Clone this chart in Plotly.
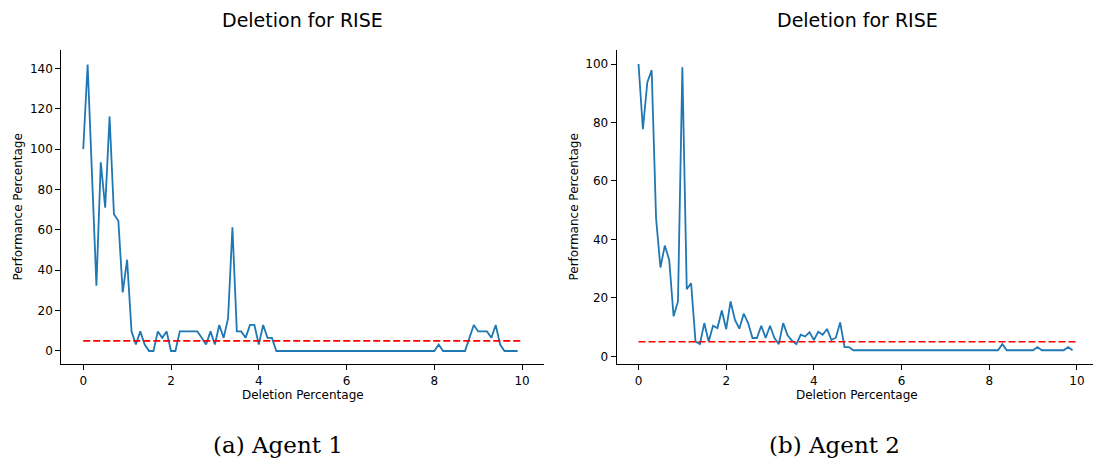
import plotly.graph_objects as go

# ---------------- data ----------------
deletion_pct = [round(i * 0.1, 1) for i in range(100)]  # 0.0 .. 9.9

agent1_perf = [
    100.0, 141.9, 87.1, 32.3, 93.5, 71.0, 116.1, 67.7, 64.5, 29.0,
    45.2, 9.7, 3.2, 9.7, 3.2, 0.0, 0.0, 9.7, 6.5, 9.7,
    0.0, 0.0, 9.7, 9.7, 9.7, 9.7, 9.7, 6.5, 3.2, 9.7,
    3.2, 12.9, 6.5, 16.1, 61.3, 9.7, 9.7, 6.5, 12.9, 12.9,
    3.2, 12.9, 6.5, 6.5, 0.0, 0.0, 0.0, 0.0, 0.0, 0.0,
    0.0, 0.0, 0.0, 0.0, 0.0, 0.0, 0.0, 0.0, 0.0, 0.0,
    0.0, 0.0, 0.0, 0.0, 0.0, 0.0, 0.0, 0.0, 0.0, 0.0,
    0.0, 0.0, 0.0, 0.0, 0.0, 0.0, 0.0, 0.0, 0.0, 0.0,
    0.0, 3.2, 0.0, 0.0, 0.0, 0.0, 0.0, 0.0, 6.5, 12.9,
    9.7, 9.7, 9.7, 6.5, 12.9, 3.2, 0.0, 0.0, 0.0, 0.0,
]

agent2_perf = [
    100.0, 77.7, 93.7, 97.9, 47.3, 30.4, 37.9, 33.0, 13.7, 18.8,
    98.9, 23.0, 25.0, 5.1, 4.2, 11.4, 5.1, 10.5, 9.7, 15.7,
    9.3, 18.8, 12.5, 9.5, 14.6, 11.4, 6.3, 6.3, 10.5, 6.3,
    10.5, 6.3, 4.2, 11.4, 7.2, 5.4, 4.2, 7.4, 6.8, 8.3,
    5.6, 8.4, 7.4, 9.4, 5.6, 6.4, 11.6, 3.2, 3.2, 2.1,
    2.1, 2.1, 2.1, 2.1, 2.1, 2.1, 2.1, 2.1, 2.1, 2.1,
    2.1, 2.1, 2.1, 2.1, 2.1, 2.1, 2.1, 2.1, 2.1, 2.1,
    2.1, 2.1, 2.1, 2.1, 2.1, 2.1, 2.1, 2.1, 2.1, 2.1,
    2.1, 2.1, 2.1, 4.2, 2.1, 2.1, 2.1, 2.1, 2.1, 2.1,
    2.1, 3.2, 2.1, 2.1, 2.1, 2.1, 2.1, 2.1, 3.2, 2.1,
]

threshold_x = [0, 10]
threshold_y = [5, 5]

titles = ["Deletion for RISE", "Deletion for RISE"]
captions = ["(a) Agent 1", "(b) Agent 2"]
x_label = "Deletion Percentage"
y_label = "Performance Percentage"
x_ticks = [0, 2, 4, 6, 8, 10]
y_ticks_1 = [0, 20, 40, 60, 80, 100, 120, 140]
y_ticks_2 = [0, 20, 40, 60, 80, 100]

# ---------------- figure ----------------
W, H = 1093, 463
BLUE = "#1f77b4"
RED = "#ff0000"
FONT = "DejaVu Sans"

fig = go.Figure()

for i, (vals, xa, ya) in enumerate([(agent1_perf, "x", "y"), (agent2_perf, "x2", "y2")]):
    fig.add_trace(go.Scatter(x=deletion_pct, y=vals, mode="lines",
                             line=dict(color=BLUE, width=1.8),
                             xaxis=xa, yaxis=ya, showlegend=False, hoverinfo="skip"))
    fig.add_trace(go.Scatter(x=threshold_x, y=threshold_y, mode="lines",
                             line=dict(color=RED, width=1.6, dash="7px,3px"),
                             xaxis=xa, yaxis=ya, showlegend=False, hoverinfo="skip"))

def px_x(p):
    return p / W

def px_y(p):
    return 1 - p / H

y_dom = [px_y(364.3), px_y(50)]

axis_common = dict(showline=True, linecolor="black", linewidth=1, mirror=False,
                   showgrid=False, zeroline=False, ticks="outside", ticklen=5,
                   tickwidth=1, tickcolor="black",
                   tickfont=dict(family=FONT, size=12, color="black"))

fig.update_layout(
    width=W, height=H,
    margin=dict(l=0, r=0, t=0, b=0),
    paper_bgcolor="white", plot_bgcolor="white",
    xaxis=dict(domain=[px_x(61.3), px_x(544)], range=[-0.5, 10.5],
               tickvals=x_ticks, anchor="y", **axis_common),
    yaxis=dict(domain=y_dom, range=[-6.6, 149.1], tickvals=y_ticks_1,
               anchor="x", **axis_common),
    xaxis2=dict(domain=[px_x(616.6), 1.0], range=[-0.5, 10.367],
                tickvals=x_ticks, anchor="y2", **axis_common),
    yaxis2=dict(domain=y_dom, range=[-2.7, 104.8], tickvals=y_ticks_2,
                anchor="x2", **axis_common),
)

annotations = []
centers = [302.6, 857.0]
caption_centers = [278, 834]
ylabel_x = [18, 574]
for i in range(2):
    annotations.append(dict(text=titles[i], x=px_x(centers[i]), y=px_y(20),
                            xref="paper", yref="paper", showarrow=False,
                            xanchor="center", yanchor="middle",
                            font=dict(family=FONT, size=19, color="black")))
    annotations.append(dict(text=x_label, x=px_x(centers[i]), y=px_y(395),
                            xref="paper", yref="paper", showarrow=False,
                            xanchor="center", yanchor="middle",
                            font=dict(family=FONT, size=12, color="black")))
    annotations.append(dict(text=y_label, x=px_x(ylabel_x[i]), y=px_y(207.5),
                            xref="paper", yref="paper", showarrow=False,
                            xanchor="center", yanchor="middle", textangle=-90,
                            font=dict(family=FONT, size=12, color="black")))
    annotations.append(dict(text=captions[i], x=px_x(caption_centers[i]), y=px_y(445),
                            xref="paper", yref="paper", showarrow=False,
                            xanchor="center", yanchor="middle",
                            font=dict(family="DejaVu Serif", size=23, color="black")))

fig.update_layout(annotations=annotations)

fig.write_html("out.html",
               config={"displayModeBar": False},
               post_script="document.body.style.margin='0';document.body.style.overflow='hidden';")
